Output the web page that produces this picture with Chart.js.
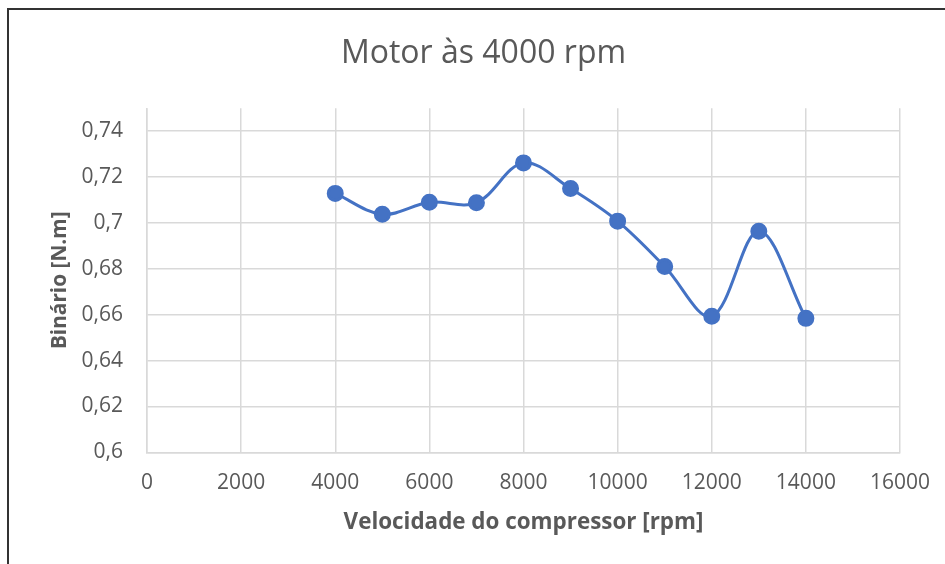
<!DOCTYPE html>
<html>
<head>
<meta charset="utf-8">
<script src="https://cdn.jsdelivr.net/npm/chart.js@4.4.1/dist/chart.umd.min.js"></script>
<style>
  html, body { margin: 0; padding: 0; background: #fff; width: 945px; height: 564px; overflow: hidden; }
  #frame { position: absolute; left: 7px; top: 8px; width: 1000px; height: 700px; border-left: 2px solid #333; border-top: 2px solid #333; }
  #wrap { position: absolute; left: 8px; top: 9px; width: 951px; height: 600px; }
</style>
</head>
<body>
<div id="frame"></div>
<div id="wrap"><canvas id="c"></canvas></div>
<script>
// ---- data ----
const chartTitle = 'Motor às 4000 rpm';
const xTitle = 'Velocidade do compressor [rpm]';
const yTitle = 'Binário [N.m]';
const rpm = [4000, 5000, 6000, 7000, 8000, 9000, 10000, 11000, 12000, 13000, 14000];
const torque = [0.7129, 0.7038, 0.7090, 0.7088, 0.7262, 0.7150, 0.7008, 0.6810, 0.6593, 0.6964, 0.6584];
const xTickValues = [0, 2000, 4000, 6000, 8000, 10000, 12000, 14000, 16000];
const yTickValues = [0.60, 0.62, 0.64, 0.66, 0.68, 0.70, 0.72, 0.74];
const yTickLabels = ['0,6', '0,62', '0,64', '0,66', '0,68', '0,7', '0,72', '0,74'];

const textColor = '#595959';
const gridColor = '#d9d9d9';
const blue = '#4472C4';
const fam = '"Open Sans", "Noto Sans", sans-serif';

const points = rpm.map((x, i) => ({ x: x, y: torque[i] }));

new Chart(document.getElementById('c'), {
  type: 'scatter',
  data: {
    datasets: [{
      data: points,
      showLine: true,
      borderColor: blue,
      backgroundColor: blue,
      borderWidth: 3,
      tension: 0.35,
      pointRadius: 7,
      pointHoverRadius: 7,
      pointBackgroundColor: blue,
      pointBorderColor: blue
    }]
  },
  options: {
    responsive: true,
    maintainAspectRatio: false,
    animation: false,
    events: [],
    layout: { padding: { left: 0, right: 0, top: 0, bottom: 56.7 } },
    plugins: {
      legend: { display: false },
      tooltip: { enabled: false },
      title: {
        display: true,
        text: chartTitle,
        color: textColor,
        font: { family: fam, size: 32, weight: 'normal' },
        padding: { top: 26, bottom: 34.9 }
      }
    },
    scales: {
      x: {
        type: 'linear',
        min: xTickValues[0],
        max: xTickValues[xTickValues.length - 1],
        afterBuildTicks: s => { s.ticks = xTickValues.map(v => ({ value: v })); },
        afterFit: s => { s.height = 100; },
        grid: { color: gridColor, lineWidth: 1.5, drawTicks: false },
        border: { color: gridColor, width: 1.5 },
        ticks: {
          color: textColor,
          font: { family: fam, size: 21 },
          padding: 18,
          maxRotation: 0,
          autoSkip: false,
          callback: v => String(v)
        },
        title: {
          display: true,
          text: xTitle,
          color: textColor,
          font: { family: fam, size: 22.4, weight: 'bold' },
          padding: { top: 0, bottom: 15.9 }
        }
      },
      y: {
        type: 'linear',
        min: 0.6,
        max: 0.75,
        afterBuildTicks: s => { s.ticks = yTickValues.map(v => ({ value: v })); },
        afterFit: s => { s.width = 139; },
        grid: { color: gridColor, lineWidth: 1.5, drawTicks: false },
        border: { color: gridColor, width: 1.5 },
        ticks: {
          color: textColor,
          font: { family: fam, size: 21 },
          padding: 24,
          autoSkip: false,
          callback: (v, i) => yTickLabels[i]
        },
        title: {
          display: true,
          text: yTitle,
          color: textColor,
          font: { family: fam, size: 20.8, weight: 'bold' },
          padding: { top: 39.5, bottom: 0 }
        }
      },
      yRight: {
        type: 'linear',
        position: 'right',
        display: true,
        afterFit: s => { s.width = 59; },
        grid: { display: false, drawTicks: false },
        border: { display: false },
        ticks: { display: false },
        title: { display: false }
      }
    }
  }
});
</script>
</body>
</html>
